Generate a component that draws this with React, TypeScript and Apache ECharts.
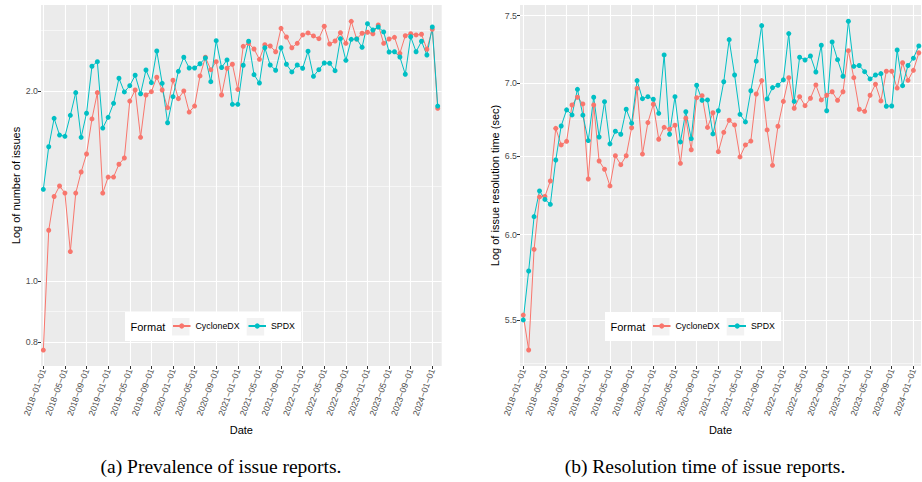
import React, { useEffect, useRef } from "react";
import * as echarts from "echarts";

// Monthly observations, 2018-01 .. 2024-02 (74 months)
const startYear = 2018;
const monthCount = 74;
const monthIndex: number[] = Array.from({ length: monthCount }, (_, i) => i);

// (a) Prevalence of issue reports (log scale values)
const cyclonedxIssues = [
  0.777, 1.203, 1.361, 1.414, 1.378, 1.113, 1.378, 1.488, 1.589, 1.806,
  1.988, 1.378, 1.461, 1.461, 1.531, 1.566, 1.928, 2.007, 1.689, 1.971,
  1.995, 2.103, 2.007, 1.882, 2.08, 1.945, 2.0, 1.852, 1.893, 2.113,
  2.262, 2.162, 2.226, 1.971, 2.173, 2.205, 2.012, 2.354, 2.38, 2.331,
  2.245, 2.368, 2.357, 2.308, 2.514, 2.436, 2.342, 2.38, 2.454, 2.472,
  2.445, 2.421, 2.533, 2.374, 2.4, 2.474, 2.38, 2.579, 2.418, 2.469,
  2.478, 2.465, 2.545, 2.38, 2.418, 2.433, 2.295, 2.447, 2.465, 2.454,
  2.46, 2.329, 2.505, 1.878,
];
const spdxIssues = [
  1.397, 1.632, 1.81, 1.703, 1.695, 1.83, 1.988, 1.689, 1.844, 2.189,
  2.226, 1.747, 1.817, 1.912, 2.095, 1.993, 2.039, 2.118, 1.98, 2.159,
  2.062, 2.314, 2.057, 1.781, 1.959, 2.149, 2.262, 2.175, 2.175, 2.209,
  2.256, 2.069, 2.403, 2.179, 2.24, 1.905, 1.905, 2.197, 2.398, 2.123,
  2.059, 2.342, 2.199, 2.157, 2.342, 2.205, 2.144, 2.199, 2.173, 2.312,
  2.11, 2.162, 2.215, 2.213, 2.154, 2.421, 2.237, 2.415, 2.418, 2.346,
  2.557, 2.499, 2.526, 2.481, 2.306, 2.308, 2.264, 2.126, 2.438, 2.308,
  2.398, 2.281, 2.526, 1.893,
];

// (b) Resolution time of issue reports (log scale values)
const cyclonedxTime = [
  5.528, 5.335, 5.911, 6.235, 6.238, 6.337, 6.686, 6.574, 6.598, 6.847,
  6.901, 6.854, 6.35, 6.847, 6.467, 6.413, 6.305, 6.502, 6.443, 6.502,
  6.69, 6.964, 6.513, 6.725, 6.852, 6.612, 6.693, 6.68, 6.707, 6.452,
  6.755, 6.542, 6.898, 6.912, 6.692, 6.793, 6.529, 6.659, 6.741, 6.709,
  6.494, 6.574, 6.6, 6.924, 7.019, 6.675, 6.439, 6.7, 6.872, 7.04,
  6.824, 6.905, 6.842, 6.894, 6.988, 6.882, 6.915, 6.94, 6.88, 6.94,
  7.236, 7.04, 6.817, 6.803, 6.915, 6.993, 6.875, 7.086, 7.086, 6.966,
  7.148, 7.021, 7.093, 7.22,
];
const spdxTime = [
  5.501, 5.782, 6.111, 6.273, 6.219, 6.188, 6.474, 6.702, 6.813, 6.778,
  6.957, 6.776, 6.603, 6.901, 6.627, 6.87, 6.581, 6.666, 6.646, 6.817,
  6.721, 7.019, 6.891, 6.905, 6.887, 6.789, 7.205, 6.646, 6.905, 6.594,
  6.8, 6.616, 6.986, 6.88, 6.882, 6.648, 6.807, 7.011, 7.318, 7.059,
  6.782, 6.73, 6.947, 7.159, 7.423, 6.889, 6.969, 6.986, 7.024, 7.363,
  6.872, 7.188, 7.168, 7.197, 7.081, 7.276, 6.807, 7.301, 7.17, 7.05,
  7.456, 7.122, 7.128, 7.083, 7.031, 7.059, 7.069, 6.838, 6.84, 7.241,
  6.983, 7.128, 7.181, 7.271,
];

// Axis breaks
const xTickLabels = [
  "2018-01-01", "2018-05-01", "2018-09-01", "2019-01-01", "2019-05-01",
  "2019-09-01", "2020-01-01", "2020-05-01", "2020-09-01", "2021-01-01",
  "2021-05-01", "2021-09-01", "2022-01-01", "2022-05-01", "2022-09-01",
  "2023-01-01", "2023-05-01", "2023-09-01", "2024-01-01",
];
const leftMajor = [0.8, 1.0, 2.0];
const leftMinor = [0.894, 1.414, 2.236, 2.5];
const rightMajor = [5.5, 6.0, 6.5, 7.0, 7.5];
const rightMinor = [5.266, 5.745, 6.245, 6.745, 7.246];

const RED = "#F8766D";
const CYAN = "#00BFC4";
const LABEL_COLOR = "#4D4D4D";
const FONT = "Liberation Sans, Arial, Helvetica, sans-serif";
const SERIF = "Liberation Serif, Times New Roman, serif";

function tickPosFromLabel(label: string): number {
  const [y, m] = label.split("-").map(Number);
  return (y - startYear) * 12 + (m - 1);
}
const xTickPos = xTickLabels.map(tickPosFromLabel);
const xLabelMap: Record<number, string> = {};
xTickLabels.forEach((l, i) => (xLabelMap[xTickPos[i]] = l.replace(/-/g, "\u2212")));

const pts = (arr: number[]) => arr.map((v, i) => [monthIndex[i], Math.log(v)]);

function makeXAxis(gridIndex: number, min: number, max: number) {
  return {
    type: "value",
    gridIndex,
    min,
    max,
    position: "bottom",
    axisLine: { show: false, onZero: false },
    axisTick: {
      show: true,
      length: 3,
      customValues: xTickPos,
      lineStyle: { color: "#333333", width: 1 },
    },
    axisLabel: {
      customValues: xTickPos,
      rotate: 70,
      fontSize: 8.8,
      color: LABEL_COLOR,
      margin: 3,
      fontFamily: FONT,
      formatter: (v: number) => xLabelMap[Math.round(v)] ?? "",
    },
    splitLine: { show: true, lineStyle: { color: "#FFFFFF", width: 1.1 } },
    name: "Date",
    nameLocation: "middle",
    nameGap: 58,
    nameTextStyle: { fontSize: 11, color: "#000000", fontFamily: FONT },
  };
}

function makeYAxes(
  gridIndex: number,
  min: number,
  max: number,
  major: number[],
  minor: number[],
  name: string
) {
  return [
    {
      type: "value",
      gridIndex,
      min,
      max,
      position: "left",
      axisLine: { show: false, onZero: false },
      axisTick: {
        show: true,
        length: 3,
        customValues: major.map(Math.log),
        lineStyle: { color: "#333333", width: 1 },
      },
      axisLabel: {
        customValues: major.map(Math.log),
        fontSize: 8.8,
        color: LABEL_COLOR,
        margin: 3,
        fontFamily: FONT,
        formatter: (v: number) => Math.exp(v).toFixed(1),
      },
      splitLine: { show: true, lineStyle: { color: "#FFFFFF", width: 1.1 } },
      name,
      nameLocation: "middle",
      nameGap: 20,
      nameTextStyle: { fontSize: 11, color: "#000000", fontFamily: FONT },
    },
    {
      type: "value",
      gridIndex,
      min,
      max,
      position: "left",
      axisLine: { show: false, onZero: false },
      axisTick: { show: false, customValues: minor.map(Math.log) },
      axisLabel: { show: false, customValues: minor.map(Math.log) },
      splitLine: { show: true, lineStyle: { color: "#FFFFFF", width: 0.55 } },
    },
  ];
}

function lineSeries(name: string, color: string, data: number[], xi: number, yi: number) {
  return {
    type: "line",
    name,
    xAxisIndex: xi,
    yAxisIndex: yi,
    data: pts(data),
    symbol: "circle",
    symbolSize: 5,
    showSymbol: true,
    lineStyle: { color, width: 1 },
    itemStyle: { color },
    emphasis: { disabled: true },
    silent: true,
    z: 2,
  };
}

function legendGraphics(x0: number) {
  return [
    {
      type: "rect",
      z: 5,
      shape: { x: x0, y: 312, width: 176, height: 29 },
      style: { fill: "#FFFFFF" },
    },
    {
      type: "text",
      z: 6,
      x: x0 + 5.5,
      y: 326.8,
      style: {
        text: "Format",
        fill: "#000000",
        font: `11px ${FONT}`,
        verticalAlign: "middle",
      },
    },
    {
      type: "rect",
      z: 6,
      shape: { x: x0 + 47, y: 318, width: 17.5, height: 17.5 },
      style: { fill: "#F2F2F2" },
    },
    {
      type: "rect",
      z: 6,
      shape: { x: x0 + 121.7, y: 318, width: 17.5, height: 17.5 },
      style: { fill: "#F2F2F2" },
    },
  ];
}

function legendOpt(x0: number) {
  return {
    left: x0 + 47,
    top: 321.5,
    orient: "horizontal",
    itemWidth: 17.5,
    itemHeight: 6.5,
    itemGap: 8,
    selectedMode: false,
    z: 10,
    padding: 0,
    data: ["CycloneDX", "SPDX"],
    textStyle: { fontSize: 8.8, color: "#000000", fontFamily: FONT },
  };
}

const option: any = {
  animation: false,
  backgroundColor: "#FFFFFF",
  textStyle: { fontFamily: FONT },
  grid: [
    {
      left: 41,
      top: 5,
      width: 400.7,
      height: 361,
      show: true,
      backgroundColor: "#EBEBEB",
      borderWidth: 0,
      outerBoundsMode: "none",
      containLabel: false,
    },
    {
      left: 520,
      top: 5,
      width: 401,
      height: 361,
      show: true,
      backgroundColor: "#EBEBEB",
      borderWidth: 0,
      outerBoundsMode: "none",
      containLabel: false,
    },
  ],
  xAxis: [makeXAxis(0, -0.43, 73.74), makeXAxis(1, -0.6, 73.4)],
  yAxis: [
    ...makeYAxes(0, -0.3105, 1.007, leftMajor, leftMinor, "Log of number of issues"),
    ...makeYAxes(1, 1.658, 2.0256, rightMajor, rightMinor, "Log of issue resolution time (sec)"),
  ],
  legend: [legendOpt(125), legendOpt(605)],
  series: [
    lineSeries("CycloneDX", RED, cyclonedxIssues, 0, 0),
    lineSeries("SPDX", CYAN, spdxIssues, 0, 0),
    lineSeries("CycloneDX", RED, cyclonedxTime, 1, 2),
    lineSeries("SPDX", CYAN, spdxTime, 1, 2),
  ],
  graphic: [
    ...legendGraphics(125),
    ...legendGraphics(605),
    {
      type: "text",
      z: 6,
      x: 221,
      y: 466,
      style: {
        text: "(a) Prevalence of issue reports.",
        fill: "#000000",
        font: `19.5px ${SERIF}`,
        align: "center",
        verticalAlign: "middle",
      },
    },
    {
      type: "text",
      z: 6,
      x: 705,
      y: 466,
      style: {
        text: "(b) Resolution time of issue reports.",
        fill: "#000000",
        font: `19.5px ${SERIF}`,
        align: "center",
        verticalAlign: "middle",
      },
    },
  ],
};

export default function App() {
  const ref = useRef<HTMLDivElement>(null);
  useEffect(() => {
    if (!ref.current) return;
    const chart = echarts.init(ref.current, null, { renderer: "svg" });
    chart.setOption(option);
    return () => chart.dispose();
  }, []);
  return (
    <div
      ref={ref}
      style={{
        position: "absolute",
        left: 0,
        top: 0,
        width: 922,
        height: 482,
        background: "#FFFFFF",
      }}
    />
  );
}
